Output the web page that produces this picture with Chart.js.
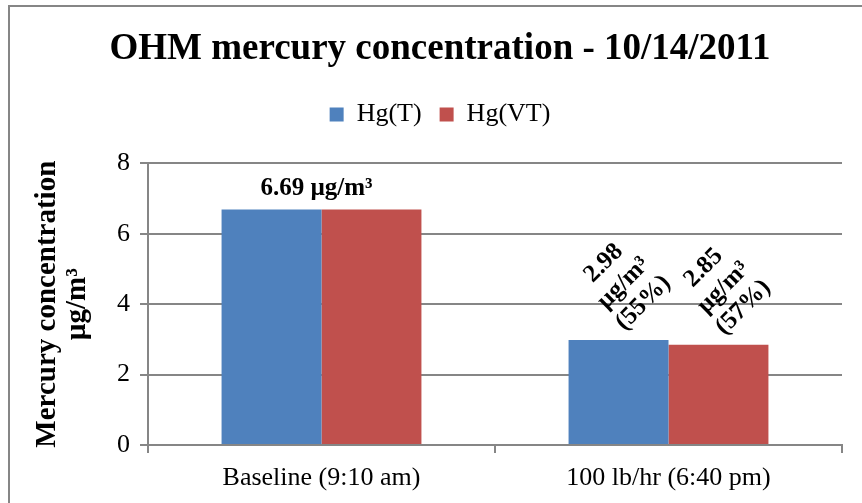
<!DOCTYPE html>
<html>
<head>
<meta charset="utf-8">
<script src="https://cdn.jsdelivr.net/npm/chart.js@4/dist/chart.umd.min.js"></script>
<style>
  html, body { margin: 0; padding: 0; background: #fff; }
  #wrap { width: 862px; height: 503px; }
</style>
</head>
<body>
<div id="wrap"><canvas id="hgChart" width="862" height="503"></canvas></div>
<script>
// chart data
const categories = ['Baseline (9:10 am)', '100 lb/hr (6:40 pm)'];
const hgT = [6.69, 2.98];
const hgVT = [6.69, 2.85];
const pctT = [null, 55];   // share of baseline, shown in label
const pctVT = [null, 57];
const yTicks = [0, 2, 4, 6, 8];

const serif = "'Liberation Serif', 'Times New Roman', serif";
const gridGray = '#868686';

// frame around the whole chart
const framePlugin = {
    id: 'frame',
    afterDraw(chart) {
        const ctx = chart.ctx;
        ctx.save();
        ctx.strokeStyle = gridGray;
        ctx.lineWidth = 2;
        ctx.strokeRect(9, 6, chart.width + 20, chart.height + 20);
        ctx.restore();
    }
};

// value labels above the bars
const valueLabels = {
    id: 'valueLabels',
    afterDatasetsDraw(chart) {
        const ctx = chart.ctx;
        const metaT = chart.getDatasetMeta(0);
        const metaVT = chart.getDatasetMeta(1);
        ctx.save();
        ctx.fillStyle = '#000';
        ctx.font = 'bold 25px ' + serif;
        ctx.textAlign = 'center';
        ctx.textBaseline = 'middle';

        categories.forEach((c, i) => {
            const bT = metaT.data[i];
            const bVT = metaVT.data[i];
            if (hgT[i] === hgVT[i]) {
                // same value for both series: one label over the pair
                const x = (bT.x + bVT.x) / 2;
                ctx.fillText(hgT[i].toFixed(2) + ' µg/m³', x - 5, bT.y - 21);
                return;
            }
            [[bT, hgT[i], pctT[i]], [bVT, hgVT[i], pctVT[i]]].forEach(([b, v, p]) => {
                const lines = [v.toFixed(2), 'µg/m³', '(' + p + '%)'];
                ctx.save();
                ctx.translate(b.x + 5, b.y - 57);
                ctx.rotate(-Math.PI / 4);
                lines.forEach((t, k) => ctx.fillText(t, 0, (k - 1) * 28));
                ctx.restore();
            });
        });
        ctx.restore();
    }
};

const ctx = document.getElementById('hgChart').getContext('2d');
new Chart(ctx, {
    type: 'bar',
    data: {
        labels: categories,
        datasets: [{
            label: 'Hg(T)',
            data: hgT,
            backgroundColor: '#4F81BD',
            categoryPercentage: 0.576,
            barPercentage: 1
        }, {
            label: 'Hg(VT)',
            data: hgVT,
            backgroundColor: '#C0504D',
            categoryPercentage: 0.576,
            barPercentage: 1
        }]
    },
    options: {
        responsive: false,
        animation: false,
        layout: { padding: { top: 5, left: 38, right: 20, bottom: 8 } },
        plugins: {
            title: {
                display: true,
                text: 'OHM mercury concentration - 10/14/2011',
                color: '#000',
                font: { family: serif, size: 37, weight: 'bold' },
                padding: { top: 22, bottom: 12 }
            },
            // empty spacer between legend and plot area
            subtitle: {
                display: true,
                text: '',
                weight: 500,
                font: { size: 10, lineHeight: 1 },
                padding: { top: 0, bottom: 16 }
            },
            legend: {
                display: true,
                position: 'top',
                labels: {
                    color: '#000',
                    font: { family: serif, size: 26 },
                    boxWidth: 14,
                    boxHeight: 14,
                    padding: 18
                }
            },
            tooltip: { enabled: false }
        },
        scales: {
            x: {
                grid: {
                    offset: true,
                    drawOnChartArea: false,
                    color: gridGray,
                    tickLength: 8,
                    lineWidth: 2
                },
                border: { color: gridGray, width: 2 },
                ticks: {
                    color: '#000',
                    font: { family: serif, size: 26 },
                    padding: 10
                },
                afterFit(scale) { scale.height = 50; }
            },
            y: {
                min: 0,
                max: 8,
                afterBuildTicks(scale) { scale.ticks = yTicks.map(v => ({ value: v })); },
                grid: { color: gridGray, tickLength: 8, lineWidth: 2 },
                border: { color: gridGray, width: 2 },
                ticks: {
                    color: '#000',
                    font: { family: serif, size: 26 },
                    padding: 10
                },
                title: {
                    display: true,
                    text: ['Mercury concentration', 'µg/m³'],
                    color: '#000',
                    font: { family: serif, size: 29, weight: 'bold', lineHeight: 1.05 },
                    padding: { top: -6, bottom: 0 }
                },
                afterFit(scale) { scale.width = 110; }
            }
        }
    },
    plugins: [framePlugin, valueLabels]
});
</script>
</body>
</html>
